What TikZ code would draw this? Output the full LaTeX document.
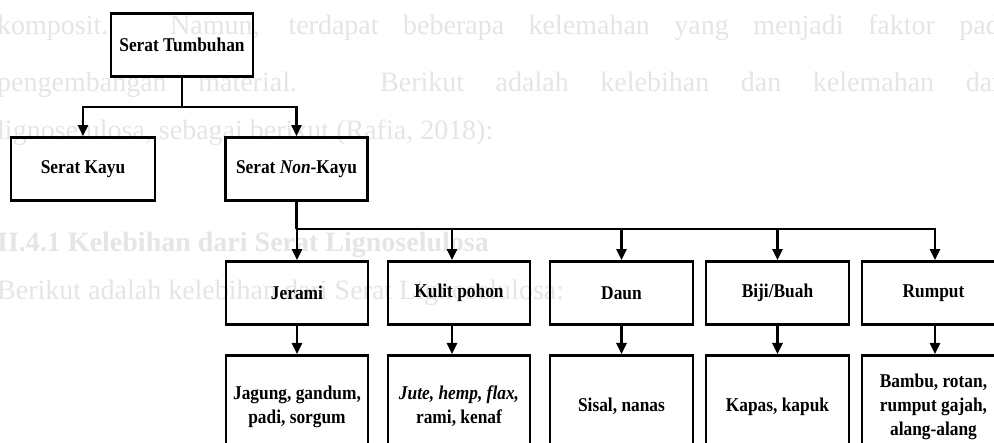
\documentclass[tikz,border=0pt]{standalone}
\usepackage{fontspec}
\setmainfont{Liberation Serif}[FakeStretch=0.89]
\newfontfamily\bgfont{Liberation Serif}
\usetikzlibrary{arrows.meta}
\tikzset{
  box/.style={draw=black, line width=2.8pt, minimum width=142pt, minimum height=63pt,
    inner sep=2pt, align=center, font=\bfseries\fontsize{19.5}{24}\selectfont},
  lowbox/.style={box, anchor=north, minimum height=102pt},
  link/.style={draw=black, line width=2.5pt},
  arr/.style={link, -{Triangle[length=11pt,width=10pt]}},
  bgtext/.style={anchor=base west, inner sep=0pt, text=black!10,
    font=\bgfont\fontsize{28}{30}\selectfont}
}
\begin{document}
\begin{tikzpicture}[x=1pt,y=-1pt]
\useasboundingbox (0,0) rectangle (994,443);
\clip (0,0) rectangle (994,443);
\fill[white] (0,0) rectangle (994,443);
% faint show-through text of the page
\node[bgtext] (bg1) at (-3,35) {\makebox[1015pt][s]{komposit. Namun, terdapat beberapa kelemahan yang menjadi faktor pada}};
\node[bgtext] (bg2) at (-3,92) {\makebox[1012pt][s]{pengembangan material. Berikut adalah kelebihan dan kelemahan dari}};
\node[bgtext] (bg3) at (-3,140) {lignoselulosa, sebagai berikut (Rafia, 2018):};
\node[bgtext] (bg4) at (-3,252) {\bfseries II.4.1 Kelebihan dari Serat Lignoselulosa};
\node[bgtext] (bg5) at (-3,300) {Berikut adalah kelebihan dari Serat Lignoselulosa:};
% boxes
\node[box] (tum) at (182,45) {Serat Tumbuhan};
\node[box, minimum width=144pt] (kayu) at (83,169) {Serat Kayu};
\node[box] (non) at (296.5,169) {Serat \textit{Non}-Kayu};
\node[box] (jer) at (297,293) {Jerami};
\node[box] (kul) at (459,293) {Kulit pohon};
\node[box, minimum width=143pt] (dau) at (621.5,293) {Daun};
\node[box, minimum width=143pt] (bij) at (777.5,293) {Biji/Buah};
\node[box, minimum width=143pt] (rum) at (933.5,293) {Rumput};
\node[lowbox] (bjer) at (297,354) {Jagung, gandum,\\padi, sorgum};
\node[lowbox] (bkul) at (459,354) {\textit{Jute, hemp, flax,}\\rami, kenaf};
\node[lowbox, minimum width=143pt] (bdau) at (621.5,354) {Sisal, nanas};
\node[lowbox, minimum width=143pt] (bbij) at (777.5,354) {Kapas, kapuk};
\node[lowbox, minimum width=143pt] (brum) at (933.5,354) {Bambu, rotan,\\rumput gajah,\\alang-alang};
% connectors
\coordinate (b1) at (0,107);
\coordinate (b2) at (0,229);
\draw[link] (tum.south) -- (tum.south |- b1);
\draw[arr] (tum.south |- b1) -| (kayu.north);
\draw[arr] (tum.south |- b1) -| (non.north);
\draw[link] (non.south) -- (non.south |- b2);
\draw[arr] (non.south |- b2) -| (jer.north);
\draw[arr] (non.south |- b2) -| ([xshift=-7pt]kul.north);
\draw[arr] (non.south |- b2) -| (dau.north);
\draw[arr] (non.south |- b2) -| (bij.north);
\draw[arr] (non.south |- b2) -| ([xshift=1.5pt]rum.north);
\draw[arr] (jer.south) -- (bjer.north);
\draw[arr] ([xshift=-7pt]kul.south) -- ([xshift=-7pt]bkul.north);
\draw[arr] (dau.south) -- (bdau.north);
\draw[arr] (bij.south) -- (bbij.north);
\draw[arr] ([xshift=1.5pt]rum.south) -- ([xshift=1.5pt]brum.north);
\end{tikzpicture}
\end{document}
